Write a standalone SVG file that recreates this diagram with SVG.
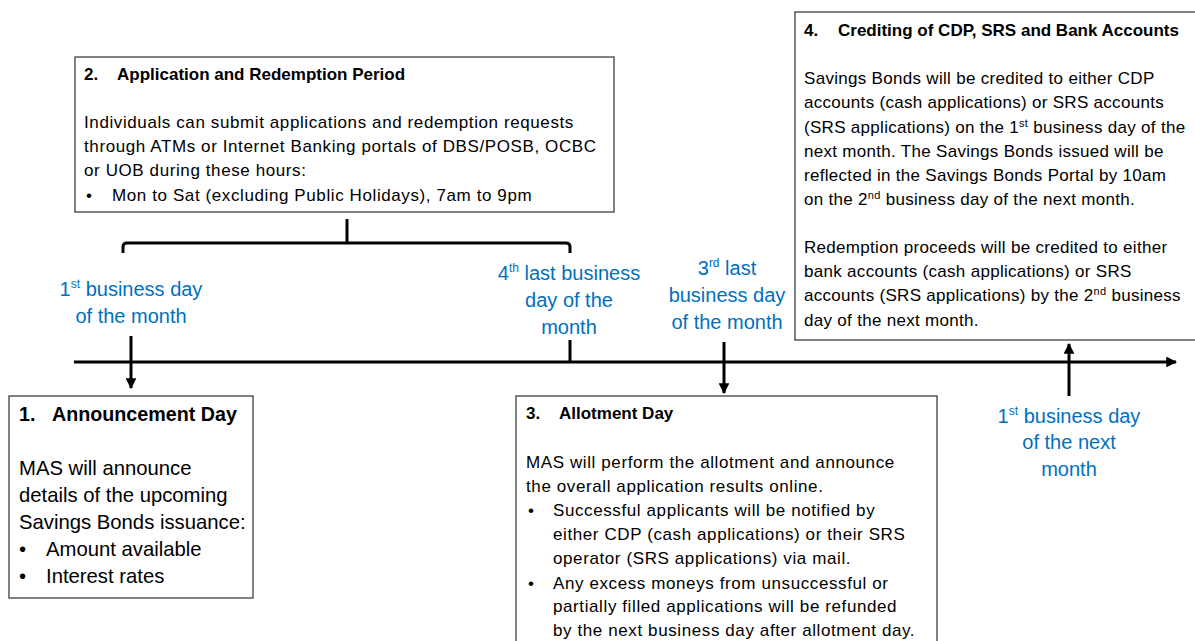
<svg xmlns="http://www.w3.org/2000/svg" width="1195" height="641" viewBox="0 0 1195 641">
<style>
.box{fill:#fff;stroke:#3f3f3f;stroke-width:1.3}
.t{font-family:"Liberation Sans",Arial,sans-serif;font-size:17px;letter-spacing:0.6px;fill:#000}
.t4{font-family:"Liberation Sans",Arial,sans-serif;font-size:17px;letter-spacing:0.3px;fill:#000}
.big{font-family:"Liberation Sans",Arial,sans-serif;font-size:20.3px;fill:#000}
.h{font-family:"Liberation Sans",Arial,sans-serif;font-size:17px;font-weight:bold;fill:#000}
.hb{font-family:"Liberation Sans",Arial,sans-serif;font-size:19.7px;font-weight:bold;fill:#000}
.lbl{font-family:"Liberation Sans",Arial,sans-serif;font-size:20px;fill:#0070C0;text-anchor:middle}
.ln{stroke:#000;stroke-width:3;fill:none}
</style>
<defs>
<marker id="ah" viewBox="0 0 10 10" refX="9" refY="5" markerWidth="3.6" markerHeight="3.6" orient="auto" markerUnits="strokeWidth">
<path d="M0,0 L10,5 L0,10 z" fill="#000"/>
</marker>
</defs>

<g id="connectors">
<line class="ln" x1="74" y1="362" x2="1176" y2="362" marker-end="url(#ah)"/>
<line class="ln" x1="131" y1="336" x2="131" y2="388" marker-end="url(#ah)"/>
<line class="ln" x1="570" y1="340" x2="570" y2="362"/>
<line class="ln" x1="724" y1="342" x2="724" y2="393" marker-end="url(#ah)"/>
<line class="ln" x1="1069" y1="396" x2="1069" y2="344" marker-end="url(#ah)"/>
<path class="ln" d="M123,253 L123,247 Q123,243 127,243 L566,243 Q570,243 570,247 L570,253"/>
<line class="ln" x1="347" y1="219" x2="347" y2="243"/>
</g>

<g id="label-1st">
<text class="lbl" x="131" y="296">1<tspan font-size="12" dy="-8">st</tspan><tspan dy="8"> business day</tspan></text>
<text class="lbl" x="131" y="323">of the month</text>
</g>
<g id="label-4th">
<text class="lbl" x="569" y="280">4<tspan font-size="12" dy="-8">th</tspan><tspan dy="8"> last business</tspan></text>
<text class="lbl" x="569" y="307">day of the</text>
<text class="lbl" x="569" y="334">month</text>
</g>
<g id="label-3rd">
<text class="lbl" x="727" y="275">3<tspan font-size="12" dy="-8">rd</tspan><tspan dy="8"> last</tspan></text>
<text class="lbl" x="727" y="302">business day</text>
<text class="lbl" x="727" y="329">of the month</text>
</g>
<g id="label-next">
<text class="lbl" x="1069" y="423">1<tspan font-size="12" dy="-8">st</tspan><tspan dy="8"> business day</tspan></text>
<text class="lbl" x="1069" y="449">of the next</text>
<text class="lbl" x="1069" y="476">month</text>
</g>

<g id="node-1">
<rect class="box" x="9" y="396" width="244" height="202"/>
<text class="hb" x="19" y="421">1.</text>
<text class="hb" x="52" y="421">Announcement Day</text>
<text class="big" x="19" y="475">MAS will announce</text>
<text class="big" x="19" y="502">details of the upcoming</text>
<text class="big" x="19" y="529">Savings Bonds issuance:</text>
<text class="big" x="19" y="556">•</text>
<text class="big" x="46" y="556">Amount available</text>
<text class="big" x="19" y="583">•</text>
<text class="big" x="46" y="583">Interest rates</text>
</g>

<g id="node-2">
<rect class="box" x="75" y="57" width="539" height="155"/>
<text class="h" x="84" y="80">2.</text>
<text class="h" x="117" y="80">Application and Redemption Period</text>
<text class="t" x="84" y="128">Individuals can submit applications and redemption requests</text>
<text class="t" x="84" y="152">through ATMs or Internet Banking portals of DBS/POSB, OCBC</text>
<text class="t" x="84" y="176">or UOB during these hours:</text>
<text class="t" x="86" y="201">•</text>
<text class="t" x="112" y="201">Mon to Sat (excluding Public Holidays), 7am to 9pm</text>
</g>

<g id="node-3">
<rect class="box" x="516" y="396" width="421" height="250"/>
<text class="h" x="526" y="419">3.</text>
<text class="h" x="559" y="419">Allotment Day</text>
<text class="t" x="526" y="468">MAS will perform the allotment and announce</text>
<text class="t" x="526" y="492">the overall application results online.</text>
<text class="t" x="528" y="516">•</text>
<text class="t" x="553" y="516">Successful applicants will be notified by</text>
<text class="t" x="553" y="540">either CDP (cash applications) or their SRS</text>
<text class="t" x="553" y="564">operator (SRS applications) via mail.</text>
<text class="t" x="528" y="589">•</text>
<text class="t" x="553" y="589">Any excess moneys from unsuccessful or</text>
<text class="t" x="553" y="612">partially filled applications will be refunded</text>
<text class="t" x="553" y="636">by the next business day after allotment day.</text>
</g>

<g id="node-4">
<rect class="box" x="795" y="12" width="410" height="328"/>
<text class="h" x="804" y="36">4.</text>
<text class="h" x="838" y="36">Crediting of CDP, SRS and Bank Accounts</text>
<text class="t4" x="804" y="84">Savings Bonds will be credited to either CDP</text>
<text class="t4" x="804" y="108">accounts (cash applications) or SRS accounts</text>
<text class="t4" x="804" y="133">(SRS applications) on the 1<tspan font-size="11" dy="-6">st</tspan><tspan dy="6"> business day of the</tspan></text>
<text class="t4" x="804" y="157">next month. The Savings Bonds issued will be</text>
<text class="t4" x="804" y="181">reflected in the Savings Bonds Portal by 10am</text>
<text class="t4" x="804" y="205">on the 2<tspan font-size="11" dy="-6">nd</tspan><tspan dy="6"> business day of the next month.</tspan></text>
<text class="t4" x="804" y="253">Redemption proceeds will be credited to either</text>
<text class="t4" x="804" y="277">bank accounts (cash applications) or SRS</text>
<text class="t4" x="804" y="301">accounts (SRS applications) by the 2<tspan font-size="11" dy="-6">nd</tspan><tspan dy="6"> business</tspan></text>
<text class="t4" x="804" y="326">day of the next month.</text>
</g>
</svg>
